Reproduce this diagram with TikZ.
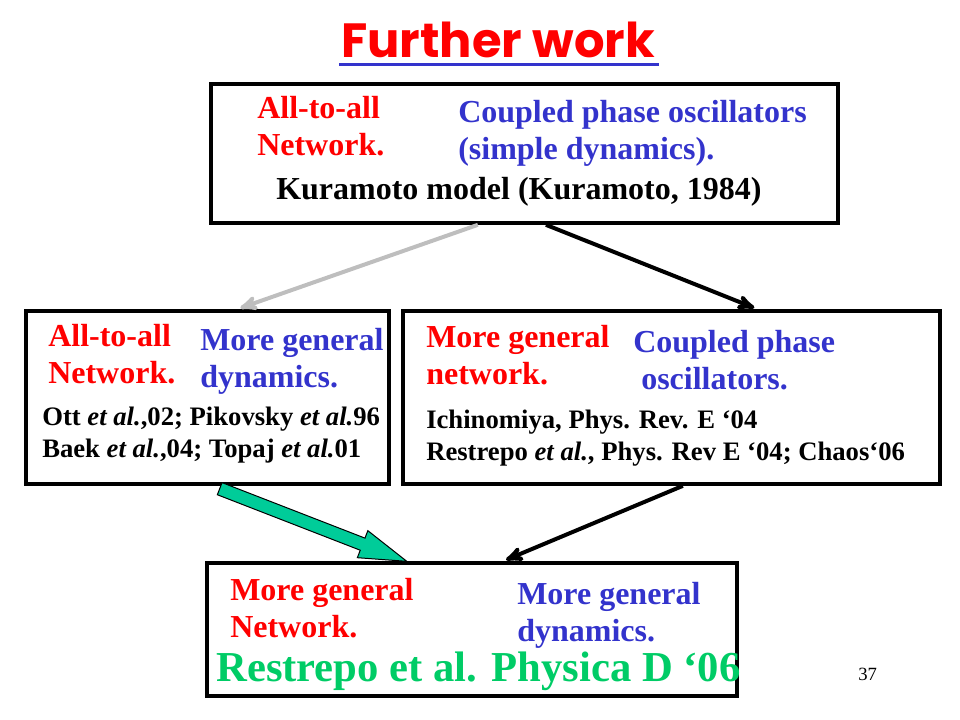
\documentclass[tikz,border=0pt]{standalone}
\usepackage{fontspec}
\setmainfont{Liberation Serif}
\newfontfamily\titlefont{Poppins}
\usetikzlibrary{positioning, arrows, calc, shapes.arrows}
\definecolor{tred}{HTML}{FF0000}
\definecolor{tblue}{HTML}{3333CC}
\definecolor{tgreen}{HTML}{00CC66}
\definecolor{tteal}{HTML}{00CC99}
\definecolor{tgray}{HTML}{BEBEBE}
\tikzset{>=stealth', every node/.style={inner sep=0pt},
	box/.style={draw, line width=2.75pt},
	lead/.style={font=\bfseries\fontsize{24}{27.75}\selectfont, anchor=base west, align=left},
	net/.style={lead, text=tred},
	dyn/.style={lead, text=tblue},
	refs/.style={font=\bfseries\fontsize{20}{24}\selectfont, anchor=base west, align=left},
	link/.style={->, line width=3pt, shorten >=2.5pt},
	flow/.style={single arrow, draw=black, line width=0.75pt, fill=tteal, inner xsep=0pt, inner ysep=4.5pt, single arrow head extend=6pt, single arrow tip angle=34}}

\begin{document}
\begin{tikzpicture}[x=0.75pt, y=-0.75pt]
	\useasboundingbox (0,0) rectangle (960,720);
	\node[font=\titlefont\bfseries\fontsize{36}{40}\selectfont, text=tred, anchor=base west] (Title) at (341,58) {Further work};
	\draw[tblue, line width=2.25pt] ([yshift=-5.25pt, xshift=-1.5pt]Title.base west) -- ([yshift=-5.25pt, xshift=3pt]Title.base east);

	\node[box, minimum width=470.25pt, minimum height=104.25pt] (Kuramoto) at (524.5,153.5) {};
	\node[box, minimum width=272.25pt, minimum height=129.75pt] (GenDyn) at (207.5,397.5) {};
	\node[box, minimum width=402.75pt, minimum height=129.75pt] (GenNet) at (671.5,397.5) {};
	\node[box, minimum width=397.5pt, minimum height=99.75pt] (Restrepo) at (472,629.5) {};

	\node[net] (KuraNet) at (257,156) {All-to-all\\Network.};
	\node[dyn] (KuraDyn) at (458,160) {Coupled phase oscillators\\(simple dynamics).};
	\node[lead] (KuraRef) at (276,200) {Kuramoto model (Kuramoto, 1984)};

	\node[net] (GenDynNet) at (48,383) {All-to-all\\Network.};
	\node[dyn] (GenDynDyn) at (200,387) {More general\\dynamics.};
	\node[refs] (GenDynRef) at (42,457) {Ott \textit{et al.},02; Pikovsky \textit{et al.}96\\Baek \textit{et al.},04; Topaj \textit{et al.}01};

	\node[net] (GenNetNet) at (426,384) {More general\\network.};
	\node[dyn] (GenNetDyn) at (633,389) {Coupled phase\\\hspace*{.25em}oscillators.};
	\node[refs] (GenNetRef) at (426,460) {Ichinomiya, Phys. Rev. E ‘04\\Restrepo \textit{et al.}, Phys. Rev E ‘04; Chaos‘06};

	\node[net] (RestrepoNet) at (230,637) {More general\\Network.};
	\node[dyn] (RestrepoDyn) at (517,641) {More general\\dynamics.};
	\node[font=\bfseries\fontsize{32}{36}\selectfont, text=tgreen, anchor=base west] (RestrepoRef) at (216,681) {Restrepo et al. Physica D ‘06};

	\node[font=\fontsize{14}{16}\selectfont, anchor=base west] (PageNo) at (858,680) {37};

	\draw[link, tgray] ($(Kuramoto.south west)!0.426!(Kuramoto.south east)$) -- ($(GenDyn.north west)!0.581!(GenDyn.north east)$);
	\draw[link] ($(Kuramoto.south west)!0.534!(Kuramoto.south east)$) -- ($(GenNet.north west)!0.659!(GenNet.north east)$);
	\draw[link] ($(GenNet.south west)!0.521!(GenNet.south east)$) -- ($(Restrepo.north west)!0.558!(Restrepo.north east)$);

	\coordinate (FlowTail) at ([yshift=-2pt]$(GenDyn.south west)!0.532!(GenDyn.south east)$);
	\coordinate (FlowTip) at ($(Restrepo.north west)!0.377!(Restrepo.north east)$);
	\path let \p1=($(FlowTip)-(FlowTail)$), \n1={atan2(\y1,\x1)}, \n2={veclen(\x1,\y1)} in
		node[flow, minimum height=\n2, rotate=\n1, anchor=tail] (Flow) at (FlowTail) {};
\end{tikzpicture}
\end{document}
